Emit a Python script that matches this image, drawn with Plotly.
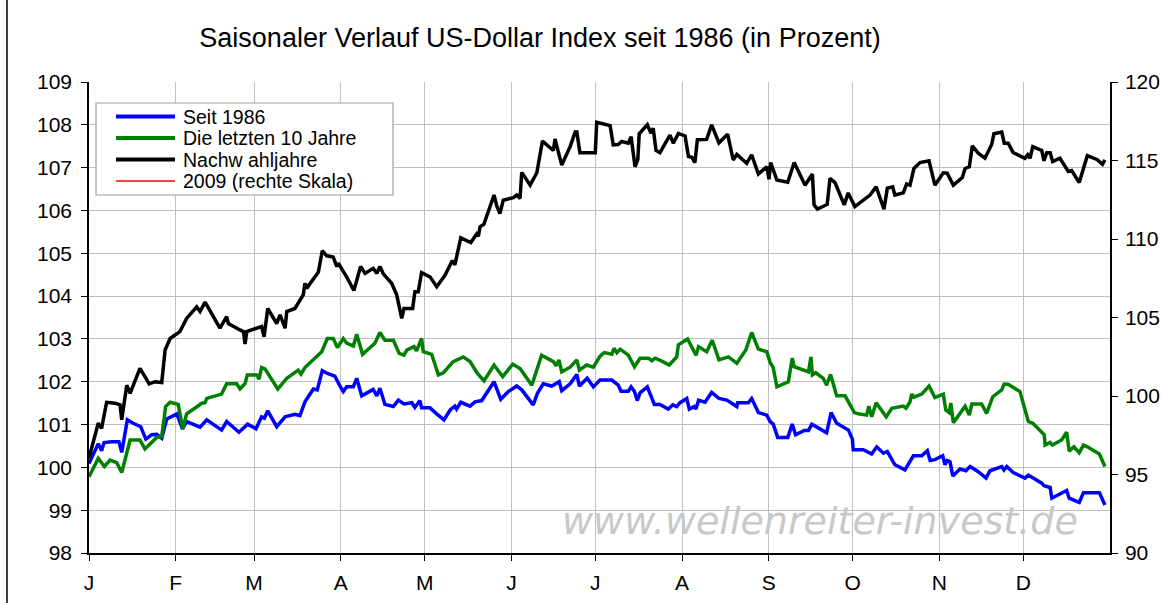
import plotly.graph_objects as go

# x = day of year (0 = 1 Jan), values in percent (start = 100)
months = ["J", "F", "M", "A", "M", "J", "J", "A", "S", "O", "N", "D"]
month_start_days = [0, 31, 59, 90, 120, 151, 181, 212, 243, 273, 304, 334]

nachwahl_days = [0, 3.3, 4.5, 6.3, 9.3, 11.1, 11.7, 13.5, 14.7, 18.2, 20.0, 21.5, 23.6, 26.0, 27.2, 29.0, 32.5, 34.9,
                 38.5, 39.7, 41.5, 44.4, 46.8, 49.2, 49.8, 54.0, 55.2, 55.8, 56.4, 61.7, 62.6, 63.9, 67.1, 68.3, 70.1,
                 70.7, 73.6, 76.6, 77.2, 77.8, 82.0, 83.4, 85.0, 87.3, 88.6, 89.1, 92.1, 94.7, 97.1, 98.7, 101.6,
                 102.9, 104.0, 105.2, 108.2, 110.0, 111.8, 112.6, 115.7, 116.5, 117.7, 118.9, 121.9, 124.3, 127.3,
                 129.9, 130.8, 132.9, 136.5, 138.6, 139.2, 139.8, 141.2, 144.8, 145.8, 146.9, 148.1, 151.7, 152.9,
                 154.1, 154.7, 157.7, 160.1, 162.1, 166.0, 166.6, 169.0, 172.0, 173.8, 174.4, 175.5, 181.0, 181.5,
                 186.3, 187.4, 189.2, 190.4, 192.8, 193.8, 195.2, 196.2, 196.7, 199.6, 200.9, 201.7, 202.7, 204.1,
                 207.7, 208.9, 210.7, 213.1, 214.3, 215.5, 216.6, 217.5, 220.8, 222.6, 225.2, 228.3, 230.3, 231.6,
                 235.1, 236.9, 239.3, 242.3, 243.1, 243.7, 245.9, 249.8, 252.1, 256.0, 258.6, 259.2, 260.4, 263.9,
                 264.9, 266.7, 270.0, 271.4, 273.8, 279.2, 281.4, 284.2, 285.4, 287.3, 288.1, 291.1, 292.3, 293.5,
                 294.9, 297.1, 300.3, 302.4, 305.4, 306.8, 309.0, 312.2, 313.2, 314.7, 315.8, 318.0, 320.3, 322.7,
                 323.5, 326.3, 327.2, 328.6, 330.4, 334.6, 335.6, 336.4, 337.4, 340.6, 341.4, 342.4, 343.6, 344.5,
                 347.1, 350.1, 351.3, 354.0, 356.9, 360.3, 362.3, 363.2]
nachwahl_vals = [100.22, 101.03, 100.91, 101.52, 101.50, 101.46, 101.11, 101.92, 101.73, 102.31, 102.12, 101.95,
                 102.00, 101.98, 102.74, 103.01, 103.17, 103.48, 103.75, 103.64, 103.86, 103.52, 103.25, 103.52,
                 103.36, 103.21, 103.17, 102.88, 103.17, 103.29, 103.05, 103.71, 103.36, 103.56, 103.25, 103.64,
                 103.71, 104.03, 104.30, 104.18, 104.56, 105.06, 104.94, 104.91, 104.69, 104.77, 104.45, 104.13,
                 104.69, 104.53, 104.65, 104.53, 104.69, 104.52, 104.30, 104.03, 103.48, 103.71, 103.71, 104.10,
                 104.10, 104.55, 104.45, 104.22, 104.49, 104.83, 104.73, 105.36, 105.25, 105.45, 105.40, 105.62,
                 105.68, 106.36, 106.10, 105.93, 106.24, 106.30, 106.36, 106.28, 106.89, 106.59, 106.88, 107.62,
                 107.40, 107.67, 107.06, 107.49, 107.83, 107.83, 107.35, 107.35, 108.06, 107.98, 107.53, 107.54,
                 107.61, 107.57, 107.72, 107.02, 107.19, 107.79, 108.00, 107.80, 107.92, 107.40, 107.35, 107.76,
                 107.57, 107.80, 107.74, 107.26, 107.24, 107.12, 107.65, 107.66, 108.00, 107.58, 107.78, 107.18,
                 107.31, 107.10, 107.30, 106.85, 107.02, 106.73, 107.12, 106.71, 106.66, 107.12, 106.59, 106.85,
                 106.13, 106.03, 106.14, 106.75, 106.65, 106.13, 106.41, 106.09, 106.36, 106.55, 106.03, 106.52,
                 106.55, 106.36, 106.41, 106.62, 106.59, 106.98, 107.12, 107.16, 106.59, 106.88, 106.87, 106.59,
                 106.77, 106.98, 107.02, 107.51, 107.33, 107.22, 107.54, 107.79, 107.83, 107.57, 107.57, 107.35,
                 107.22, 107.30, 107.22, 107.49, 107.40, 107.16, 107.35, 107.35, 107.14, 107.22, 106.91, 106.93,
                 106.65, 107.28, 107.19, 107.08, 107.18]

seit1986_days = [0, 3.3, 4.5, 5.4, 8.1, 10.7, 11.7, 13.7, 15.8, 18.5, 20.3, 22.4, 24.2, 26.0, 27.8, 31.4, 33.4, 34.9,
                 39.7, 42.1, 47.4, 49.2, 53.6, 56.7, 59.7, 61.7, 62.7, 63.9, 67.1, 70.1, 73.6, 75.4, 77.2, 80.2, 81.6,
                 83.4, 85.0, 87.9, 89.7, 90.9, 92.1, 94.5, 95.7, 97.5, 101.6, 102.9, 104.0, 105.8, 108.8, 110.6, 112.6,
                 115.4, 116.5, 118.3, 118.9, 121.9, 124.3, 126.9, 129.1, 130.8, 131.4, 132.9, 136.2, 138.0, 140.4,
                 142.2, 144.8, 147.2, 149.9, 152.9, 154.7, 158.8, 160.3, 162.4, 165.4, 168.1, 169.0, 172.0, 174.4,
                 175.3, 178.1, 180.3, 182.7, 186.9, 189.2, 190.2, 192.8, 193.8, 195.0, 196.0, 197.0, 199.6, 202.1,
                 204.1, 207.1, 208.7, 210.1, 211.3, 213.7, 214.6, 216.4, 217.0, 217.9, 220.2, 222.6, 225.2, 228.0,
                 231.6, 231.9, 235.7, 236.9, 239.3, 242.3, 243.5, 244.6, 246.2, 249.8, 251.4, 252.6, 255.7, 257.2,
                 258.4, 261.0, 263.7, 265.3, 267.3, 271.5, 272.9, 273.2, 276.8, 279.8, 281.6, 284.0, 285.4, 288.1,
                 291.7, 294.7, 297.7, 299.7, 300.7, 302.4, 305.2, 306.0, 306.8, 307.8, 308.8, 311.4, 313.5, 315.0,
                 317.9, 320.7, 322.1, 326.3, 327.1, 328.1, 330.4, 334.6, 335.8, 340.6, 341.4, 343.6, 344.2, 349.5,
                 350.4, 354.0, 355.5, 361.2, 363.2]
seit1986_vals = [100.09, 100.55, 100.39, 100.58, 100.60, 100.60, 100.35, 101.11, 101.03, 100.95, 100.66, 100.76,
                 100.77, 100.68, 101.13, 101.25, 100.90, 101.07, 100.94, 101.11, 100.87, 101.07, 100.82, 101.01,
                 100.90, 101.18, 101.15, 101.32, 100.95, 101.18, 101.24, 101.21, 101.53, 101.83, 101.81, 102.26,
                 102.20, 102.13, 101.90, 101.77, 101.88, 101.88, 102.08, 101.67, 101.82, 101.67, 101.85, 101.47,
                 101.42, 101.57, 101.48, 101.51, 101.40, 101.56, 101.39, 101.39, 101.25, 101.11, 101.34, 101.43,
                 101.36, 101.52, 101.43, 101.53, 101.56, 101.73, 102.00, 101.59, 101.77, 101.90, 101.81, 101.46,
                 101.73, 101.95, 101.90, 102.00, 101.79, 101.95, 102.17, 101.90, 102.08, 101.88, 102.04, 102.04,
                 101.92, 101.78, 101.78, 101.88, 101.77, 101.56, 101.74, 101.88, 101.47, 101.47, 101.36, 101.46,
                 101.42, 101.51, 101.61, 101.36, 101.42, 101.36, 101.57, 101.52, 101.75, 101.61, 101.57, 101.42,
                 101.51, 101.51, 101.61, 101.28, 101.22, 101.07, 101.01, 100.70, 100.70, 101.01, 100.76, 100.86,
                 100.86, 101.01, 100.91, 100.81, 101.28, 101.03, 100.87, 100.66, 100.41, 100.41, 100.31, 100.48,
                 100.33, 100.37, 100.06, 99.94, 100.27, 100.27, 100.39, 100.16, 100.18, 100.27, 100.06, 100.16,
                 100.13, 99.80, 99.96, 99.92, 100.02, 99.90, 99.75, 99.92, 100.02, 99.94, 100.02, 99.88, 99.75,
                 99.82, 99.63, 99.57, 99.53, 99.28, 99.46, 99.28, 99.18, 99.41, 99.41, 99.12]

zehn_days = [0, 3.3, 5.5, 7.5, 9.9, 11.7, 14.7, 18.2, 20.0, 22.4, 24.2, 26.0, 27.4, 29.0, 31.9, 33.5, 34.9, 39.1, 40.3,
             41.5, 42.1, 47.4, 49.2, 52.8, 54.0, 55.8, 56.6, 60.0, 60.8, 61.7, 62.9, 67.5, 70.7, 74.8, 75.8, 77.2,
             83.2, 85.2, 87.3, 88.8, 90.3, 90.9, 92.1, 94.5, 95.7, 97.8, 102.2, 104.0, 105.8, 108.8, 110.9, 112.6,
             113.6, 116.2, 117.1, 118.9, 119.5, 122.5, 124.9, 126.7, 130.2, 133.8, 136.2, 138.8, 141.2, 144.8, 147.9,
             151.5, 154.1, 158.3, 161.8, 166.0, 167.0, 168.0, 169.0, 172.0, 174.4, 175.3, 177.9, 180.3, 182.7, 184.2,
             186.9, 187.7, 188.7, 189.9, 192.8, 195.0, 197.0, 200.0, 201.2, 202.4, 204.8, 207.4, 210.1, 210.7, 214.0,
             215.5, 217.0, 217.9, 220.8, 222.8, 225.2, 228.6, 231.6, 234.8, 236.9, 239.3, 242.3, 243.5, 244.6, 245.9,
             250.0, 251.4, 252.1, 257.2, 258.1, 258.6, 259.8, 262.5, 263.7, 265.1, 267.3, 270.3, 272.1, 273.6, 275.0,
             278.0, 278.8, 279.8, 281.4, 285.0, 287.0, 291.1, 292.1, 293.5, 294.1, 294.9, 297.7, 300.3, 302.4, 305.4,
             306.3, 307.5, 308.1, 309.0, 313.2, 314.7, 315.6, 319.1, 320.9, 323.1, 326.3, 327.1, 328.6, 332.8, 335.8,
             337.4, 341.5, 341.8, 343.6, 344.4, 347.7, 349.5, 350.4, 352.1, 354.0, 355.5, 356.9, 361.2, 363.2]
zehn_vals = [99.78, 100.21, 100.02, 100.17, 100.11, 99.88, 100.64, 100.64, 100.43, 100.60, 100.70, 100.72, 101.42,
             101.52, 101.47, 100.90, 101.25, 101.44, 101.50, 101.51, 101.61, 101.71, 101.95, 101.95, 101.83, 101.96,
             102.16, 102.16, 102.06, 102.33, 102.30, 101.83, 102.08, 102.27, 102.18, 102.33, 102.70, 103.01, 103.01,
             102.80, 102.97, 103.01, 102.90, 102.83, 103.11, 102.64, 102.90, 103.15, 102.97, 102.97, 102.66, 102.62,
             102.74, 102.82, 102.72, 103.01, 102.70, 102.64, 102.16, 102.21, 102.47, 102.58, 102.47, 102.20, 102.02,
             102.39, 102.12, 102.41, 102.31, 101.92, 102.62, 102.47, 102.37, 102.51, 102.23, 102.34, 102.51, 102.27,
             102.39, 102.34, 102.60, 102.68, 102.64, 102.78, 102.68, 102.76, 102.62, 102.35, 102.55, 102.55, 102.49,
             102.55, 102.48, 102.39, 102.58, 102.86, 103.00, 102.82, 102.62, 102.82, 102.70, 102.97, 102.51, 102.58,
             102.43, 102.74, 103.15, 102.76, 102.70, 102.45, 102.33, 101.88, 102.00, 102.55, 102.35, 102.23, 102.58,
             102.16, 102.21, 102.08, 101.92, 102.17, 101.67, 101.67, 101.46, 101.28, 101.25, 101.22, 101.43, 101.18,
             101.51, 101.18, 101.38, 101.43, 101.38, 101.53, 101.71, 101.64, 101.71, 101.90, 101.63, 101.71, 101.34,
             101.28, 101.50, 101.04, 101.43, 101.22, 101.48, 101.48, 101.26, 101.65, 101.81, 101.94, 101.94, 101.77,
             101.07, 101.03, 100.76, 100.52, 100.58, 100.52, 100.64, 100.82, 100.38, 100.48, 100.34, 100.52, 100.48,
             100.31, 100.02]

# 2009 series (right scale) – no values visible in the picture
y2009_days = [None]
y2009_vals = [None]

series_names = ["Seit 1986", "Die letzten 10 Jahre", "Nachw ahljahre", "2009 (rechte Skala)"]
series_colors = ["#0000ff", "#008000", "#000000", "#ff0000"]
series_widths = [3.5, 3.5, 3.5, 1.5]

FONT = "Liberation Sans, Arial, sans-serif"
W, H = 1161, 603
L, R, T, B = 89, 51, 82, 50
PW, PH = W - L - R, H - T - B


def px(x):  # pixel -> paper x
    return (x - L) / PW


def py(y):  # pixel -> paper y
    return (H - B - y) / PH


fig = go.Figure()
all_x = [seit1986_days, zehn_days, nachwahl_days, y2009_days]
all_y = [seit1986_vals, zehn_vals, nachwahl_vals, y2009_vals]
for i in range(4):
    fig.add_trace(go.Scatter(x=all_x[i], y=all_y[i], mode="lines", name=series_names[i],
                             line=dict(color=series_colors[i], width=series_widths[i]),
                             yaxis="y2" if i == 3 else "y", showlegend=False))

fig.update_layout(
    width=W, height=H,
    margin=dict(l=L, r=R, t=T, b=B, autoexpand=False),
    paper_bgcolor="white", plot_bgcolor="white",
    font=dict(family=FONT, size=21, color="black"),
    title=dict(text="Saisonaler Verlauf US-Dollar Index seit 1986 (in Prozent)",
               x=540 / W, xanchor="center", y=1 - 38 / H, yanchor="middle",
               font=dict(family=FONT, size=27, color="black")),
    xaxis=dict(range=[0, 365], tickmode="array", tickvals=month_start_days, ticktext=months,
               showgrid=True, gridcolor="#c0c0c0", gridwidth=1, automargin=False,
               showline=True, linecolor="black", linewidth=1.5,
               ticks="outside", ticklen=6, tickcolor="black", ticklabelstandoff=4,
               zeroline=False, tickfont=dict(size=21)),
    yaxis=dict(range=[98, 109], dtick=1, tick0=98, showgrid=True, gridcolor="#c0c0c0", gridwidth=1,
               showline=True, linecolor="black", linewidth=1.5, automargin=False,
               ticks="outside", ticklen=6, tickcolor="black", ticklabelstandoff=5,
               zeroline=False, tickfont=dict(size=21)),
    yaxis2=dict(range=[90, 120], dtick=5, tick0=90, overlaying="y", side="right", showgrid=False,
                showline=True, linecolor="black", linewidth=1.5, automargin=False,
                ticks="outside", ticklen=6, tickcolor="black", ticklabelstandoff=3,
                zeroline=False, tickfont=dict(size=21)),
    showlegend=False,
)

# legend box (drawn like the Excel legend)
fig.add_shape(type="rect", xref="paper", yref="paper", x0=px(96), x1=px(393), y0=py(195), y1=py(103),
              line=dict(color="#a0a0a0", width=1.2), fillcolor="white", layer="above")
legend_rows = [116.5, 138, 159.5, 181]
for i in range(4):
    fig.add_shape(type="line", xref="paper", yref="paper", x0=px(116), x1=px(175),
                  y0=py(legend_rows[i]), y1=py(legend_rows[i]),
                  line=dict(color=series_colors[i], width=series_widths[i] + (0.5 if i < 3 else 0)),
                  layer="above")
    fig.add_annotation(text=series_names[i], xref="paper", yref="paper", x=px(181), y=py(legend_rows[i]),
                       xanchor="left", yanchor="middle", showarrow=False,
                       font=dict(family=FONT, size=19.5, color="black"))

fig.add_annotation(text="www.wellenreiter-invest.de", xref="paper", yref="paper",
                   x=px(820), y=py(521), xanchor="center", yanchor="middle",
                   showarrow=False,
                   font=dict(family="DejaVu Sans, sans-serif", size=38, color="#c8c8c8", style="italic"))

# chart-area frame (left edge visible)
fig.add_shape(type="line", xref="paper", yref="paper",
              x0=px(7), x1=px(7), y0=py(H), y1=py(0),
              line=dict(color="black", width=1.5))

fig.write_html("out.html", config={"displayModeBar": False},
               post_script="document.body.style.margin='0';document.body.style.overflow='hidden';")
